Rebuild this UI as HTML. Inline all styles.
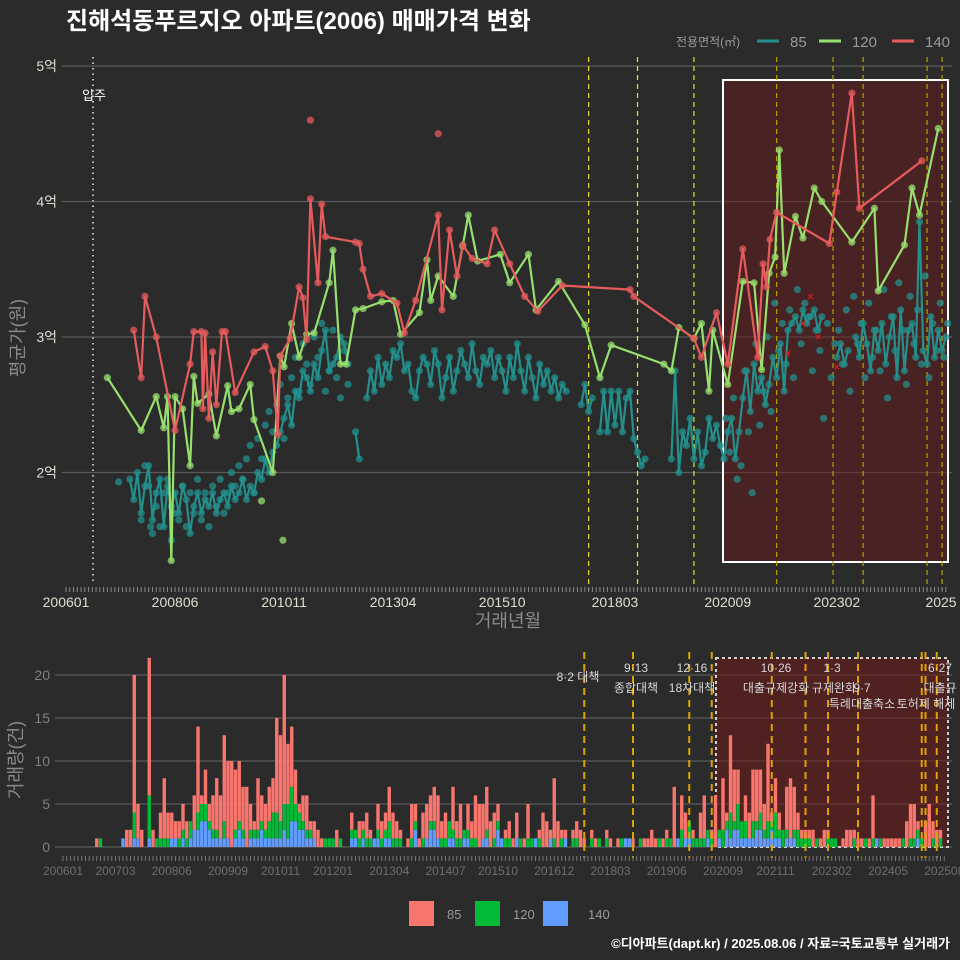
<!DOCTYPE html>
<html><head><meta charset="utf-8">
<style>
html,body{margin:0;padding:0;background:#2b2b2c;}
svg{display:block;font-family:"Liberation Sans","Noto Sans CJK KR",sans-serif;}
</style></head>
<body>
<svg id="chart" width="960" height="960" viewBox="0 0 960 960" xmlns="http://www.w3.org/2000/svg">
<rect x="0" y="0" width="960" height="960" fill="#2b2b2c"/>
<text x="66" y="29" font-size="24" font-weight="bold" fill="#ffffff">진해석동푸르지오 아파트(2006) 매매가격 변화</text>
<g>
<text x="676" y="46" font-size="12" fill="#9a9a9a">전용면적(㎡)</text>
<line x1="757" y1="41" x2="779" y2="41" stroke="#23908c" stroke-width="3"/>
<text x="790" y="47" font-size="15" fill="#9a9a9a">85</text>
<line x1="819" y1="41" x2="841" y2="41" stroke="#98e06e" stroke-width="3"/>
<text x="852" y="47" font-size="15" fill="#9a9a9a">120</text>
<line x1="892" y1="41" x2="914" y2="41" stroke="#e65b5b" stroke-width="3"/>
<text x="925" y="47" font-size="15" fill="#9a9a9a">140</text>
</g>
<g id="topPanel"></g>
<g id="bottomPanel"></g>
<text x="508" y="627" font-size="18" fill="#8a8a8a" text-anchor="middle">거래년월</text>
<text transform="translate(24,338) rotate(-90)" font-size="18" fill="#8a8a8a" text-anchor="middle">평균가(원)</text>
<text transform="translate(22,760) rotate(-90)" font-size="18" fill="#8a8a8a" text-anchor="middle">거래량(건)</text>
<g>
<rect x="409" y="901" width="25" height="25" fill="#F8766D"/>
<text x="447" y="919" font-size="13" fill="#9a9a9a">85</text>
<rect x="475" y="901" width="25" height="25" fill="#00BA38"/>
<text x="513" y="919" font-size="13" fill="#9a9a9a">120</text>
<rect x="543" y="901" width="25" height="25" fill="#619CFF"/>
<text x="588" y="919" font-size="13" fill="#9a9a9a">140</text>
</g>
<text x="950" y="948" font-size="13" font-weight="bold" fill="#ffffff" text-anchor="end">©디아파트(dapt.kr) / 2025.08.06 / 자료=국토교통부 실거래가</text>
</svg>
<script>
// ---- data (month index: 0 = 2006-01) ----
const tealStart = 17;
const teal85 = [1.95,1.80,2.00,1.70,1.90,2.05,1.65,1.85,1.95,1.60,1.90,1.75,1.85,1.70,1.90,1.80,1.55,1.75,1.85,1.70,
1.80,1.75,1.85,1.70,1.80,1.85,1.75,1.90,1.80,1.85,1.95,1.80,1.90,1.85,2.00,1.95,2.10,2.00,2.15,2.20,
2.30,2.40,2.50,2.35,2.60,2.55,2.75,2.70,2.60,2.80,2.70,2.90,3.05,2.75,2.80,2.85,3.00,2.95,2.80,null,
2.30,2.10,null,2.55,2.75,2.60,2.85,2.65,2.80,2.70,2.90,2.85,2.95,2.75,2.80,2.60,2.55,2.75,2.85,2.80,
2.65,2.90,2.80,2.55,2.70,2.85,2.60,2.75,2.90,2.80,2.70,2.95,2.75,2.65,2.85,2.80,2.90,2.70,2.85,2.75,
2.60,2.85,2.70,2.95,2.75,2.60,2.85,2.70,2.55,2.80,2.65,2.75,2.60,2.70,2.55,2.65,2.60,null,null,null,
2.50,2.65,2.45,2.55,null,2.30,2.60,2.30,2.60,2.35,2.60,2.30,2.55,2.60,2.25,2.15,2.05,2.10,null,null,
null,null,null,null,2.10,2.75,2.00,2.30,2.20,2.40,2.10,2.30,2.05,2.15,2.40,2.25,2.35,2.20,2.10,2.30,
2.40,2.10,2.30,2.55,2.75,2.45,2.80,2.60,2.70,2.50,2.65,2.85,2.70,2.95,2.60,3.05,3.10,3.15,3.05,3.20,
3.10,3.15,3.20,3.05,3.15,null,null,null,2.85,2.95,2.80,2.90,null,3.00,2.85,3.10,2.95,2.75,3.05,2.90,
3.10,2.80,3.00,3.15,2.70,3.20,2.75,3.05,3.10,2.85,3.85,2.90,2.80,3.15,2.85,3.05,2.90,3.00];
const tealExtraStartA = 20;
const tealExtraA = [1.65,2.05,1.90,1.55,1.75,1.60,1.85,1.95,1.50,1.70,1.65,1.90,1.60,1.85,1.70,1.95,1.65,1.85,1.60,1.90,
1.75,1.95,1.70,1.85,2.00,1.90,2.05,1.95,2.10,2.20,1.85,2.25,2.10,2.35,2.45,2.30,2.50,2.65,2.25,2.55,
2.70,2.85,2.60,2.95,2.80,2.65,3.00,2.85,3.10,2.60,2.75,3.05,2.70,2.55,2.90,2.65];
const tealExtraStartB = 175;
const tealExtraB = [2.40,2.15,2.55,1.95,2.05,2.75,2.30,1.85,2.95,2.35,2.60,3.00,2.45,3.25,2.90,3.10,2.80,3.20,2.70,3.35,
2.95,3.25,3.15,2.75,3.05,2.90,2.40,3.10,2.70,2.95,3.05,2.80,3.20,2.60,3.30,2.95,3.10,2.70,3.25,2.85,
3.05,2.75,3.35,2.55,3.15,2.90,3.40,3.05,2.65,3.30,2.95,3.20,2.80,3.45,2.70,3.10,2.90,3.25,2.85,3.10];
const green120Months = [11,20,24,26,27,28,29,31,33,34,35,38,40,43,44,46,49,50,55,57,58,60,62,64,66,70,71,73,74.5,77,79,84,87,89,94,96,97,99,103,105.5,107,109.5,115.5,118,123,125,131,138,142,145,159,161,163,167,169,171,172,176,180,183,185,187,188.6,189.7,191,194,196,199,201,209,215,216,223,225,227,232];
const green120Values = [2.70,2.31,2.56,2.33,2.56,1.35,2.56,2.47,2.05,2.71,2.51,2.58,2.27,2.64,2.45,2.47,2.65,2.39,2.00,2.86,2.78,3.10,2.85,3.02,3.03,3.40,3.64,2.80,2.80,3.20,3.21,3.26,3.27,3.02,3.18,3.57,3.27,3.45,3.30,3.67,3.90,3.56,3.61,3.40,3.61,3.20,3.41,3.09,2.70,2.94,2.80,2.75,3.07,2.99,3.10,2.60,3.05,2.65,3.41,3.40,2.76,3.47,3.59,4.38,3.47,3.89,3.73,4.10,4.00,3.70,3.95,3.34,3.68,4.10,3.90,4.54];
const red140Months = [18,20,21,24,29,33,34,36,36.4,37,38,39,40,41.5,42.4,45,50,53,55,56.3,57,59.6,62,63,64,65,67,68,69,77,78,79,81,84,88,90,93,99,100,102,104,105.5,108,112,114,118,122,125.5,132,150,151,167,169,173,176,180,184,185.4,186.3,187.2,189,203,205,209,211,227.6];
const red140Values = [3.05,2.70,3.30,3.00,2.31,2.80,3.04,3.04,2.47,3.03,2.40,2.89,2.50,3.04,3.04,2.59,2.89,2.93,2.75,2.28,2.86,2.99,3.37,3.29,2.98,4.02,3.40,3.98,3.74,3.70,3.69,3.50,3.30,3.32,3.25,3.03,3.27,3.90,3.20,3.79,3.45,3.68,3.58,3.54,3.79,3.54,3.30,3.19,3.38,3.35,3.30,2.99,2.85,3.18,2.80,3.65,2.85,3.54,3.37,3.72,3.92,3.69,4.07,4.80,3.95,4.30];
const extraMonths = [65,99,57.7,52,14,22.5];
const extraValues = [4.60,4.50,1.50,1.79,1.93,1.60];
const extraSeries = ['140','140','120','120','85','85'];
const cancelMonths = [192,196,198,200,205];
const cancelValues = [2.88,3.10,3.30,3.00,2.78];
const topTickMonths = [0,29,58,87,116,146,176,205,234];
const topTickLabels = ['200601','200806','201011','201304','201510','201803','202009','202302','2025'];
const priceTicks = [2,3,4,5];
const priceTickLabels = ['2억','3억','4억','5억'];
const volStart = 0;
const volumeTotal = [0,0,0,0,0,0,0,0,0,1,1,0,0,0,0,0,
1,2,2,20,5,2,0,22,2,1,4,8,4,4,3,3,5,3,3,6,14,6,9,5,6,8,6,13,10,10,9,10,7,7,5,3,8,6,5,7,8,15,13,20,12,14,9,5,6,6,
3,3,2,1,1,1,1,2,1,0,0,4,2,3,3,4,2,1,5,3,4,7,4,3,2,0,1,5,5,1,4,5,6,7,6,3,4,3,7,3,5,2,5,3,6,5,5,7,3,4,
5,1,2,3,1,4,1,1,5,1,1,2,4,3,2,8,3,2,
2,0,2,3,2,1,0,2,1,1,0,2,1,0,1,1,1,1,1,0,0,1,1,2,1,1,1,2,1,7,1,6,4,2,2,1,4,6,2,2,6,2,8,4,13,9,9,
2,6,4,9,9,9,5,12,4,8,4,2,7,8,7,4,2,2,2,2,1,1,2,2,1,1,0,1,2,2,2,1,1,1,1,6,1,1,1,1,1,1,1,1,3,5,5,3,1,3,5,3,2,2];
const volumeGreen120 = [0,0,0,0,0,0,0,0,0,0,1,0,0,0,0,0,
0,0,0,3,0,0,0,5,0,1,1,1,1,0,0,1,1,1,2,0,2,2,2,1,1,1,0,2,0,0,1,1,1,0,1,1,1,1,1,2,3,3,2,3,4,4,2,2,1,1,
1,0,0,0,1,1,1,0,1,0,0,1,1,1,1,1,1,0,1,1,1,2,1,1,1,0,0,1,1,0,1,0,1,1,0,1,1,2,1,1,1,1,1,1,1,0,0,1,0,1,
1,0,1,1,0,0,1,0,1,1,0,1,0,0,0,1,0,1,
0,0,1,1,0,0,0,1,0,1,0,1,0,0,0,1,0,0,0,0,1,0,0,0,0,1,0,1,1,0,0,2,0,2,1,1,1,1,1,1,0,1,2,1,3,1,3,2,2,
0,2,1,2,1,2,1,3,1,2,1,0,1,2,1,1,1,0,1,0,0,1,1,1,0,0,0,0,1,0,0,1,0,1,0,1,0,0,0,0,0,1,0,1,1,1,1,0,0,1,0,1,0,1];
const volumeBlue140 = [0,0,0,0,0,0,0,0,0,0,0,0,0,0,0,0,
1,0,0,1,1,0,0,1,0,0,0,0,0,1,1,0,1,0,1,2,2,3,3,2,1,1,1,1,1,0,1,2,1,0,1,1,1,2,1,1,1,1,1,2,1,3,3,2,2,1,
1,1,0,0,0,0,0,0,0,0,0,1,1,0,1,0,0,1,1,0,1,1,0,0,0,0,0,0,2,0,0,1,2,2,1,0,0,1,1,0,0,1,1,0,0,0,1,1,0,0,
2,1,0,0,0,1,0,0,0,0,1,0,0,0,1,0,0,0,
1,0,0,0,0,0,0,0,0,0,0,0,0,0,0,0,1,1,0,0,0,0,0,0,0,0,0,0,0,0,1,0,1,1,0,0,0,0,1,0,0,1,0,2,1,2,2,1,
1,1,1,2,2,1,1,2,1,1,0,1,1,1,0,0,0,0,0,0,0,0,0,0,0,0,0,0,0,0,0,0,0,0,0,1,0,0,0,0,0,0,0,0,0,0,1,0,0,0,0,0,0,0];
const volTicks = [0,5,10,15,20];
const volTickMonths = [0,14,29,44,58,72,87,102,116,131,146,161,176,190,205,220,235];
const volTickLabels = ['200601','200703','200806','200909','201011','201201','201304','201407','201510','201612','201803','201906','202009','202111','202302','202405','202508'];
const policyMonths = [139,152,167,189,204,212,229,233];
const bottomPolicyMonths = [139,152,167,173,189,198,204,212,229,230,233];

// ---- scales ----
const NS = 'http://www.w3.org/2000/svg';
const X = m => 66 + 3.76 * m;
const Y = p => 66 + (5 - p) * 135.5;
const XB = m => 63 + 3.75 * m;
const YB = c => 847 - 8.6 * c;
const topG = document.getElementById('topPanel');
const bottomG = document.getElementById('bottomPanel');
function mk(parent, tag, attrs) {
  const e = document.createElementNS(NS, tag);
  for (const k in attrs) e.setAttribute(k, attrs[k]);
  parent.appendChild(e);
  return e;
}
const colors = {'85':'#23908c','120':'#98e06e','140':'#e65b5b'};

priceTicks.forEach((p, i) => {
  const g = mk(topG, 'line', {x1: 62, x2: 952, y1: Y(p), y2: Y(p), stroke: '#5a5a5a', 'stroke-width': 1.2});
  
  
  const t = mk(topG, 'text', {x: 57, y: Y(p) + 5, 'font-size': 14, fill: '#e0ddd0', 'text-anchor': 'end'});
  t.textContent = priceTickLabels[i];
  
  
});
const hb = mk(topG, 'rect', {x: 723, y: 80, width: 225, height: 482, fill: 'rgba(110,25,25,0.45)', stroke: '#ffffff', 'stroke-width': 2});


const mv = mk(topG, 'line', {x1: 93, x2: 93, y1: 57, y2: 585, stroke: '#bbbbbb', 'stroke-width': 2, 'stroke-dasharray': '1.5 4'});


const mvt = mk(topG, 'text', {x: 94, y: 100, 'font-size': 13, fill: '#ffffff', 'text-anchor': 'middle'});
mvt.textContent = '입주';


policyMonths.forEach(m => {
  const l = mk(topG, 'line', {x1: X(m), x2: X(m), y1: 57, y2: 590, stroke: m > 180 ? '#b5a500' : '#e6e62a', 'stroke-width': 1.2, 'stroke-dasharray': '5 4'});
  
  
});
for (let m = 0; m <= 234; m++) {
  const t = mk(topG, 'line', {x1: X(m), x2: X(m), y1: 587, y2: 592, stroke: '#8a8a8a', 'stroke-width': 1});
  
  
}
topTickMonths.forEach((m, i) => {
  const t = mk(topG, 'text', {x: Math.min(X(m), 941), y: 607, 'font-size': 14, fill: '#e0ddd0', 'text-anchor': 'middle'});
  t.textContent = topTickLabels[i];
  
  
});
function dot(m, v, col, name, r) {
  const c = mk(topG, 'circle', {cx: X(m), cy: Y(v), r: r || 3.6, fill: col, 'fill-opacity': 0.75});
  
  
}
tealExtraA.forEach((v, i) => dot(tealExtraStartA + i, v, colors['85'], 'point-85'));
tealExtraB.forEach((v, i) => dot(tealExtraStartB + i + 0.5, v, colors['85'], 'point-85'));
let seg = [];
function flush() {
  if (seg.length > 1) {
    const p = mk(topG, 'polyline', {points: seg.join(' '), fill: 'none', stroke: colors['85'], 'stroke-width': 2.2, 'stroke-linejoin': 'round'});
    
    
  }
  seg = [];
}
teal85.forEach((v, i) => {
  if (v === null) { flush(); return; }
  seg.push(X(tealStart + i).toFixed(1) + ',' + Y(v).toFixed(1));
  dot(tealStart + i, v, colors['85'], 'point-85');
});
flush();
function series(months, values, key) {
  const pts = months.map((m, i) => X(m).toFixed(1) + ',' + Y(values[i]).toFixed(1));
  values.forEach((v, i) => dot(months[i], v, colors[key], 'point-' + key));
  const p = mk(topG, 'polyline', {points: pts.join(' '), fill: 'none', stroke: colors[key], 'stroke-width': 2.2, 'stroke-linejoin': 'round'});
  
  
}
series(green120Months, green120Values, '120');
series(red140Months, red140Values, '140');
extraMonths.forEach((m, i) => dot(m, extraValues[i], colors[extraSeries[i]], 'point-' + extraSeries[i]));
cancelMonths.forEach((m, i) => {
  const x = X(m), y = Y(cancelValues[i]);
  const t = mk(topG, 'text', {x: x, y: y + 4, 'font-size': 12, fill: '#ff1a1a', 'text-anchor': 'middle'});
  t.textContent = '×';
  
  
});

// ---- bottom panel ----
volTicks.forEach(c => {
  const g = mk(bottomG, 'line', {x1: 55, x2: 952, y1: YB(c), y2: YB(c), stroke: '#5a5a5a', 'stroke-width': 1.2});
  
  
  const t = mk(bottomG, 'text', {x: 50, y: YB(c) + 5, 'font-size': 14, fill: '#808080', 'text-anchor': 'end'});
  t.textContent = c;
  
  
});
const bb = mk(bottomG, 'rect', {x: 716, y: 658, width: 232, height: 189, fill: 'rgba(110,25,25,0.55)', stroke: '#d0d0d0', 'stroke-width': 2, 'stroke-dasharray': '3 3'});


volumeTotal.forEach((t, i) => {
  const m = volStart + i;
  const b = volumeBlue140[i] || 0, g = volumeGreen120[i] || 0, r = Math.max(0, t - g - b);
  const x = XB(m) - 1.7, w = 3.4;
  if (b > 0) { const e = mk(bottomG, 'rect', {x: x, y: YB(b), width: w, height: YB(0) - YB(b), fill: '#619CFF'});   }
  if (g > 0) { const e = mk(bottomG, 'rect', {x: x, y: YB(b + g), width: w, height: YB(b) - YB(b + g), fill: '#00BA38'});   }
  if (r > 0) { const e = mk(bottomG, 'rect', {x: x, y: YB(b + g + r), width: w, height: YB(b + g) - YB(b + g + r), fill: '#F8766D'});   }
});
bottomPolicyMonths.forEach(m => {
  const l = mk(bottomG, 'line', {x1: XB(m), x2: XB(m), y1: 652, y2: 858, stroke: '#e0a000', 'stroke-width': 2, 'stroke-dasharray': '7 5'});
  
  
});
const notes = [[578,681,'8·2 대책'],[636,672,'9·13'],[636,692,'종합대책'],[692,672,'12·16'],[692,692,'18차대책'],[776,672,'10·26'],[776,692,'대출규제강화'],[832,672,'1·3'],[834,692,'규제완화'],[862,692,'9·7'],[862,708,'특례대출축소'],[940,672,'6·27'],[940,692,'대출규'],[926,708,'토허제 해제']];
notes.forEach(n => {
  const t = mk(bottomG, 'text', {x: n[0], y: n[1], 'font-size': 12, fill: '#d8d8d8', 'text-anchor': 'middle'});
  t.textContent = n[2];
  
  
});
for (let m = 0; m <= 235; m++) {
  const t = mk(bottomG, 'line', {x1: XB(m), x2: XB(m), y1: 856, y2: 861, stroke: '#777777', 'stroke-width': 1});
  
  
}
volTickMonths.forEach((m, i) => {
  const t = mk(bottomG, 'text', {x: XB(m), y: 875, 'font-size': 12, fill: '#6e6e6e', 'text-anchor': 'middle'});
  t.textContent = volTickLabels[i];
  
  
});
</script>
</body></html>
